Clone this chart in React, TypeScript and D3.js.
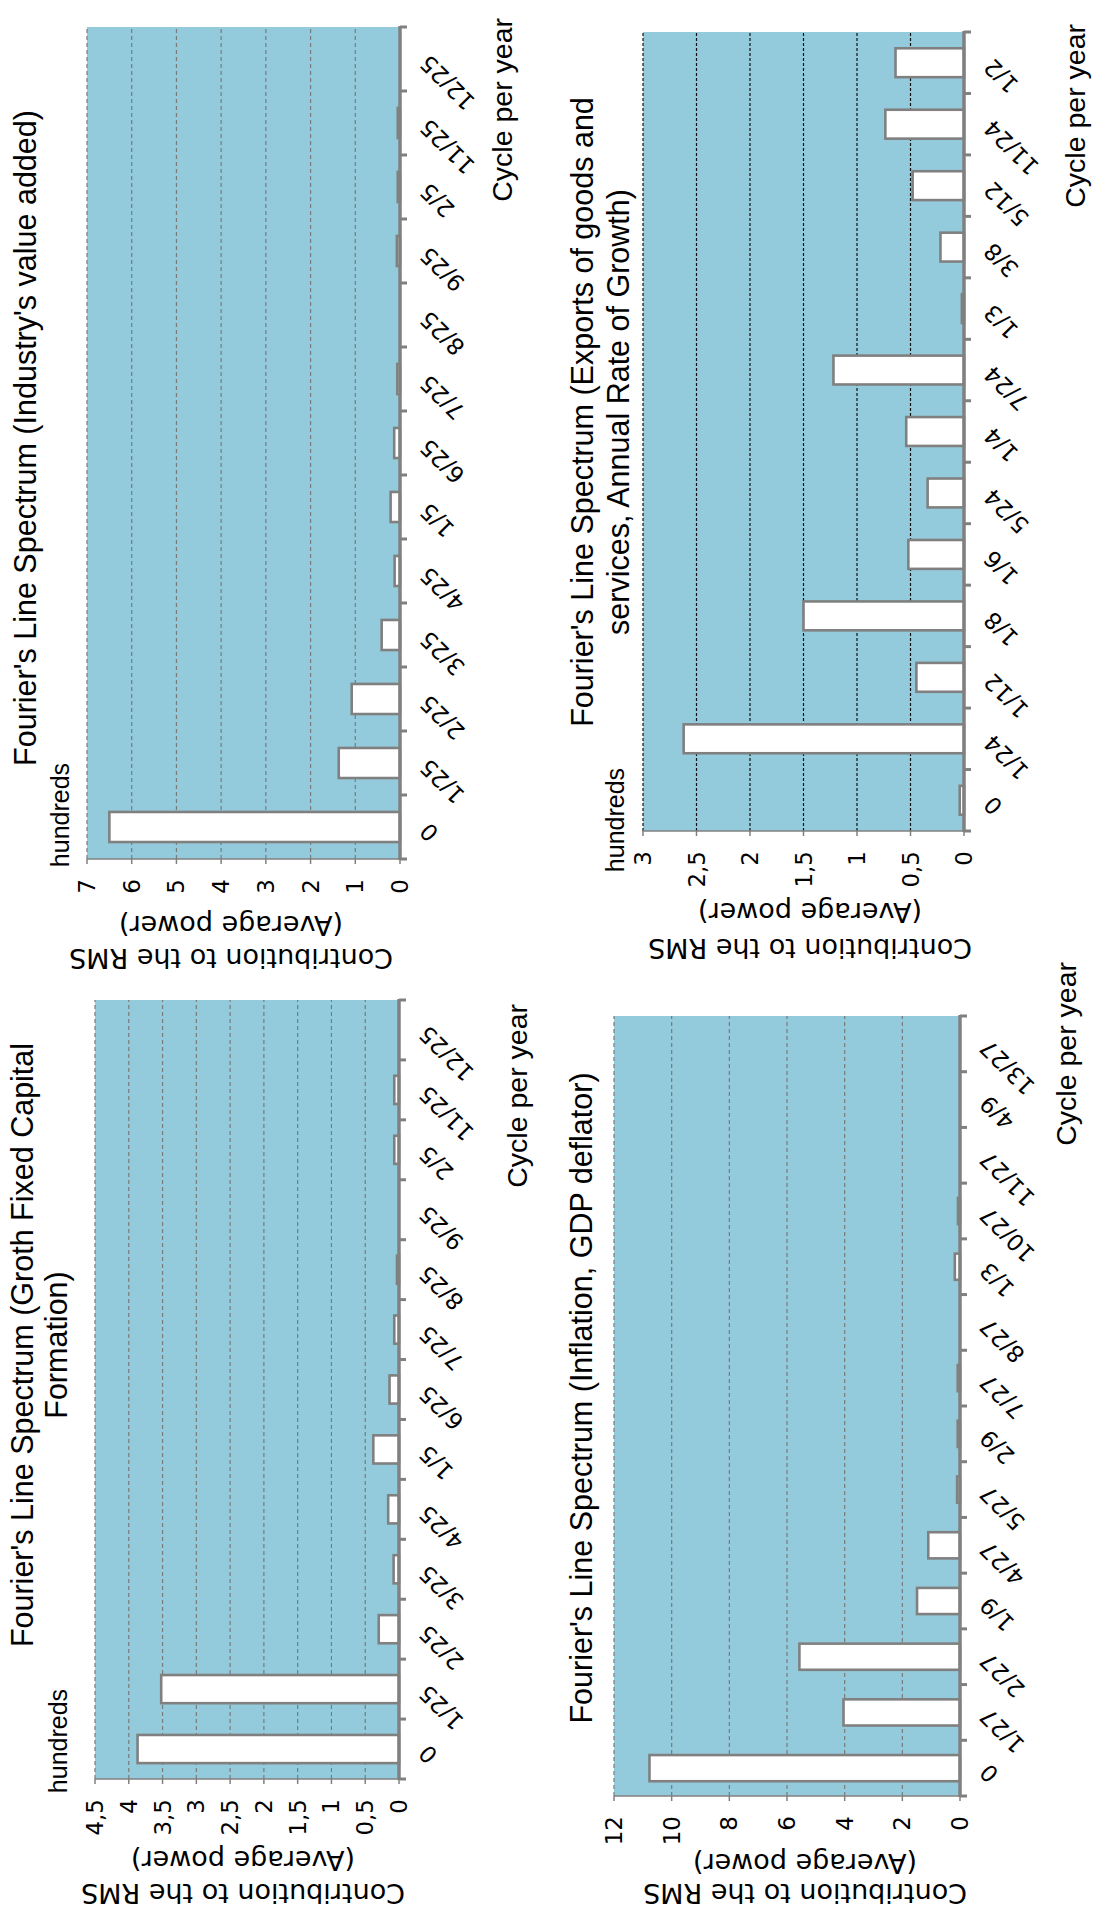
import React from 'react';
import * as d3 from 'd3';

// Page is laid out in landscape (1910 x 1094) and turned a quarter turn counter-clockwise.
const PAGE_W = 1094;
const PAGE_H = 1910;
const LAND_W = PAGE_H;

// ---- data ----
const grothCats = ['0', '1/25', '2/25', '3/25', '4/25', '1/5', '6/25', '7/25', '8/25', '9/25', '2/5', '11/25', '12/25'];
const grothVals = [3.87, 3.52, 0.3, 0.08, 0.16, 0.38, 0.14, 0.07, 0.03, 0, 0.07, 0.07, 0];
const grothTicks = [0, 0.5, 1, 1.5, 2, 2.5, 3, 3.5, 4, 4.5];

const industryCats = ['0', '1/25', '2/25', '3/25', '4/25', '1/5', '6/25', '7/25', '8/25', '9/25', '2/5', '11/25', '12/25'];
const industryVals = [6.5, 1.37, 1.08, 0.41, 0.12, 0.21, 0.13, 0.06, 0, 0.07, 0.05, 0.05, 0];
const industryTicks = [0, 1, 2, 3, 4, 5, 6, 7];

const inflationCats = ['0', '1/27', '2/27', '1/9', '4/27', '5/27', '2/9', '7/27', '8/27', '1/3', '10/27', '11/27', '4/9', '13/27'];
const inflationVals = [10.77, 4.04, 5.57, 1.49, 1.1, 0.1, 0.08, 0.08, 0, 0.18, 0.07, 0, 0, 0];
const inflationTicks = [0, 2, 4, 6, 8, 10, 12];

const exportsCats = ['0', '1/24', '1/12', '1/8', '1/6', '5/24', '1/4', '7/24', '1/3', '3/8', '5/12', '11/24', '1/2'];
const exportsVals = [0.04, 2.62, 0.445, 1.5, 0.52, 0.34, 0.54, 1.22, 0.02, 0.22, 0.48, 0.735, 0.64];
const exportsTicks = [0, 0.5, 1, 1.5, 2, 2.5, 3];

const xAxisTitle = 'Cycle per year';
const yAxisTitle = ['Contribution to the RMS', '(Average power)'];
const unitLabel = 'hundreds';

// ---- styling ----
const FONT = '"DejaVu Sans", Verdana, sans-serif';
const FONT_TITLE = '"Liberation Sans", Arial, sans-serif';
const PLOT_BG = '#93cbdc';
const AXIS_GREY = '#808080';

const fmt = d3.formatLocale({ decimal: ',', thousands: '.', grouping: [3], currency: ['', ''] }).format('~g');

type PanelCfg = {
  cats: string[];
  vals: number[];
  ticks: number[];
  left: number; right: number; top: number; bottom: number;
  title: string[]; titleX: number; titleY: number[];
  unit?: { x: number; y: number };
  yTitleX: number; yTitleU: number[];
  cycleEnd: number; cycleY: number;
  gridColor: string; gridDash: string;
};

// plot frames in landscape coordinates (x along categories, y down)
const panels: PanelCfg[] = [
  {
    cats: grothCats, vals: grothVals, ticks: grothTicks,
    left: 131, right: 910, top: 95, bottom: 399,
    title: ["Fourier's Line Spectrum (Groth Fixed Capital", 'Formation)'], titleX: 565, titleY: [22, 56],
    unit: { x: 169, y: 58 },
    yTitleX: 243, yTitleU: [17, 50],
    cycleEnd: 906, cycleY: 517,
    gridColor: '#7a7a7a', gridDash: '4 3',
  },
  {
    cats: industryCats, vals: industryVals, ticks: industryTicks,
    left: 1051, right: 1883, top: 87, bottom: 400,
    title: ["Fourier's Line Spectrum (Industry's value added)"], titleX: 1472, titleY: [25],
    unit: { x: 1095, y: 60 },
    yTitleX: 231, yTitleU: [952, 985],
    cycleEnd: 1892, cycleY: 502,
    gridColor: '#7a7a7a', gridDash: '4 3',
  },
  {
    cats: inflationCats, vals: inflationVals, ticks: inflationTicks,
    left: 114, right: 894, top: 614, bottom: 960,
    title: ["Fourier's Line Spectrum (Inflation, GDP deflator)"], titleX: 512, titleY: [581],
    yTitleX: 805, yTitleU: [17, 47],
    cycleEnd: 948, cycleY: 1066,
    gridColor: '#7a7a7a', gridDash: '4 3',
  },
  {
    cats: exportsCats, vals: exportsVals, ticks: exportsTicks,
    left: 1079, right: 1878, top: 643, bottom: 964,
    title: ["Fourier's Line Spectrum  (Exports of goods and", 'services, Annual Rate of Growth)'], titleX: 1498, titleY: [582, 618],
    unit: { x: 1090, y: 615 },
    yTitleX: 810, yTitleU: [962, 998],
    cycleEnd: 1886, cycleY: 1075,
    gridColor: '#111111', gridDash: '3 2',
  },
];

function Panel({ cfg }: { cfg: PanelCfg }) {
  const { left, right, top, bottom } = cfg;
  const x = d3.scaleBand<string>().domain(cfg.cats).range([left, right]).paddingInner(0.53).paddingOuter(0.265);
  const y = d3.scaleLinear().domain([0, d3.max(cfg.ticks) as number]).range([bottom, top]);
  const step = x.step();
  const bounds = d3.range(cfg.cats.length + 1).map((i) => left + i * step);

  return (
    <g>
      <rect x={left} y={top} width={right - left} height={bottom - top} fill={PLOT_BG} />
      {cfg.ticks.filter((t) => t > 0).map((t) => (
        <line key={'g' + t} x1={left} x2={right} y1={y(t)} y2={y(t)} stroke={cfg.gridColor} strokeWidth={1.2} strokeDasharray={cfg.gridDash} />
      ))}
      {cfg.cats.map((c, i) => (
        <rect key={'b' + c} x={x(c)} y={y(cfg.vals[i])} width={x.bandwidth()} height={bottom - y(cfg.vals[i])}
          fill="#ffffff" stroke={AXIS_GREY} strokeWidth={2.6} />
      ))}
      {/* value axis */}
      <line x1={left} x2={left} y1={top} y2={bottom} stroke={AXIS_GREY} strokeWidth={1.5} />
      {cfg.ticks.map((t) => (
        <g key={'t' + t}>
          <line x1={left - 5} x2={left} y1={y(t)} y2={y(t)} stroke={AXIS_GREY} strokeWidth={1.5} />
          <text x={left - 20} y={y(t)} textAnchor="end" dominantBaseline="central" fontSize={23} fontFamily={FONT} fill="#000">{fmt(t)}</text>
        </g>
      ))}
      {/* category axis */}
      <line x1={left - 1} x2={right + 1} y1={bottom} y2={bottom} stroke={AXIS_GREY} strokeWidth={3.5} />
      {bounds.map((b, i) => (
        <line key={'k' + i} x1={b} x2={b} y1={bottom} y2={bottom + 7} stroke={AXIS_GREY} strokeWidth={3} />
      ))}
      {cfg.cats.map((c) => {
        const cx = (x(c) as number) + x.bandwidth() / 2;
        return (
          <text key={'l' + c} transform={`translate(${cx},${bottom + 24}) rotate(-45)`} textAnchor="end" dy="0.35em"
            fontSize={23} fontFamily={FONT} fill="#000">{c}</text>
        );
      })}
      {/* titles */}
      {cfg.title.map((line, i) => (
        <text key={'ti' + i} x={cfg.titleX} y={cfg.titleY[i]} textAnchor="middle" dominantBaseline="central"
          fontSize={30.5} fontFamily={FONT_TITLE} fill="#000">{line}</text>
      ))}
      {cfg.unit && (
        <text x={cfg.unit.x} y={cfg.unit.y} textAnchor="middle" dominantBaseline="central" fontSize={25} fontFamily={FONT_TITLE} fill="#000">{unitLabel}</text>
      )}
      {yAxisTitle.map((line, i) => (
        <text key={'ya' + i} transform={`translate(${cfg.yTitleU[i]},${cfg.yTitleX}) rotate(-90)`} textAnchor="middle"
          dominantBaseline="central" fontSize={27} fontFamily={FONT} fill="#000">{line}</text>
      ))}
      <text x={cfg.cycleEnd} y={cfg.cycleY} textAnchor="end" dominantBaseline="central" fontSize={28.5} fontFamily={FONT_TITLE} fill="#000">{xAxisTitle}</text>
    </g>
  );
}

export default function App() {
  return (
    <svg width={PAGE_W} height={PAGE_H} viewBox={`0 0 ${PAGE_W} ${PAGE_H}`}
      style={{ position: 'absolute', left: 0, top: 0, background: '#fff' }}>
      <rect width={PAGE_W} height={PAGE_H} fill="#fff" />
      <g transform={`translate(0,${LAND_W}) rotate(-90)`}>
        {panels.map((p, i) => <Panel key={i} cfg={p} />)}
      </g>
    </svg>
  );
}
